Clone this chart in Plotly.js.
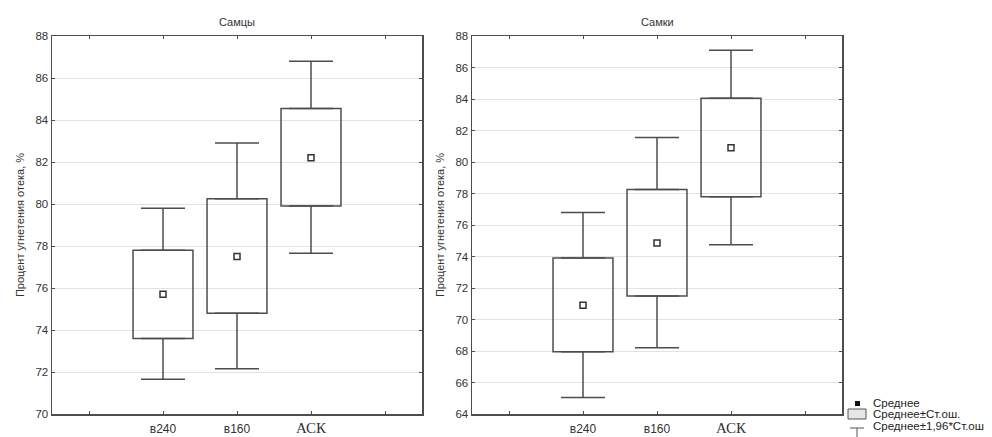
<!DOCTYPE html>
<html>
<head>
<meta charset="utf-8">
<script src="https://cdn.plot.ly/plotly-3.0.1.min.js"></script>
<style>html,body{margin:0;padding:0;background:#fff;}#chart{width:992px;height:437px;}</style>
</head>
<body>
<div id="chart"></div>
<script>
// Categories (positions 0 and 4 are empty slots on the axis)
const categories = ['в240', 'в160', 'АСК'];
const tickLabels = ['', 'в240', 'в160', '<span style="font-family:\'Liberation Serif\',serif;font-size:15px">АСК</span>', ''];

// Самцы (males)
const maleMean  = [75.7, 77.5, 82.2];
const maleSeLo  = [73.6, 74.8, 79.9];   // Среднее - Ст.ош.
const maleSeHi  = [77.8, 80.25, 84.55]; // Среднее + Ст.ош.
const maleCiLo  = [71.65, 72.15, 77.65];// Среднее - 1.96*Ст.ош.
const maleCiHi  = [79.8, 82.9, 86.8];   // Среднее + 1.96*Ст.ош.

// Самки (females)
const femMean = [70.9, 74.85, 80.9];
const femSeLo = [67.95, 71.5, 77.8];
const femSeHi = [73.9, 78.25, 84.05];
const femCiLo = [65.05, 68.2, 74.75];
const femCiHi = [76.8, 81.55, 87.1];

const xs = categories.map((c, i) => i + 1);
const lineCol = '#4d4d4d';

function boxTraces(m, lo, hi, ciLo, ciHi, xa, ya) {
  const zeros = xs.map(() => 0);
  return [
    { // upper whisker (from box top to upper limit)
      type: 'scatter', mode: 'markers', x: xs, y: hi, xaxis: xa, yaxis: ya,
      marker: {size: 0.1, opacity: 0},
      error_y: {type: 'data', symmetric: false, array: hi.map((v, i) => ciHi[i] - v), arrayminus: zeros,
                width: 22, thickness: 1.5, color: lineCol},
      showlegend: false, hoverinfo: 'skip'
    },
    { // lower whisker
      type: 'scatter', mode: 'markers', x: xs, y: lo, xaxis: xa, yaxis: ya,
      marker: {size: 0.1, opacity: 0},
      error_y: {type: 'data', symmetric: false, array: zeros, arrayminus: lo.map((v, i) => v - ciLo[i]),
                width: 22, thickness: 1.5, color: lineCol},
      showlegend: false, hoverinfo: 'skip'
    },
    { // box: mean ± SE
      type: 'bar', x: xs, base: lo, y: hi.map((v, i) => v - lo[i]), xaxis: xa, yaxis: ya,
      width: 0.81, marker: {color: 'rgba(255,255,255,0)', line: {color: lineCol, width: 1.5}},
      showlegend: false, hoverinfo: 'skip'
    },
    { // mean marker
      type: 'scatter', mode: 'markers', x: xs, y: m, xaxis: xa, yaxis: ya,
      marker: {symbol: 'square-open', size: 6, color: '#333', line: {width: 1.5, color: '#333'}},
      showlegend: false, hoverinfo: 'skip'
    }
  ];
}

const data = [
  ...boxTraces(maleMean, maleSeLo, maleSeHi, maleCiLo, maleCiHi, 'x', 'y'),
  ...boxTraces(femMean, femSeLo, femSeHi, femCiLo, femCiHi, 'x2', 'y2')
];

const W = 992, H = 437;
const px = v => v / W, py = v => 1 - v / H;

const fontBase = {family: 'Liberation Sans, Arial, sans-serif', size: 11, color: '#333'};
const legFont = {family: 'Liberation Sans, Arial, sans-serif', size: 11.5, color: '#222'};

function xAxis(dom, anchor) {
  return {
    domain: dom, anchor: anchor, range: [-0.5, 4.5],
    tickvals: [0, 1, 2, 3, 4], ticktext: tickLabels,
    ticks: 'inside', ticklen: 3, tickcolor: lineCol, tickwidth: 1,
    showline: true, linecolor: lineCol, linewidth: 1.5, mirror: 'ticks',
    showgrid: false, zeroline: false, ticklabelstandoff: 3,
    tickfont: {family: 'Liberation Sans, Arial, sans-serif', size: 12, color: '#333'}
  };
}
function yAxis(dom, anchor, range) {
  return {
    domain: dom, anchor: anchor, range: range, dtick: 2, tick0: 0,
    ticks: 'inside', ticklen: 3, tickcolor: lineCol, tickwidth: 1,
    showline: true, linecolor: lineCol, linewidth: 1.5, mirror: 'ticks',
    showgrid: true, gridcolor: '#e2e2e2', gridwidth: 1, zeroline: false,
    tickfont: {...fontBase, size: 11.5},
    title: {text: 'Процент угнетения отека, %', font: fontBase, standoff: 8}
  };
}

const yDom = [py(414), py(36)];
const ann = (text, x, y, xanchor, font) => ({text, xref: 'paper', yref: 'paper', x: px(x), y: py(y),
  xanchor, yanchor: 'middle', showarrow: false, font});

const layout = {
  width: W, height: H,
  margin: {l: 0, r: 0, t: 0, b: 0},
  paper_bgcolor: '#fff', plot_bgcolor: '#fff',
  font: fontBase, showlegend: false, barmode: 'overlay',
  xaxis: xAxis([px(52), px(422)], 'y'),
  yaxis: yAxis(yDom, 'x', [70, 88]),
  xaxis2: xAxis([px(472), px(842)], 'y2'),
  yaxis2: yAxis(yDom, 'x2', [64, 88]),
  annotations: [
    ann('Самцы', 237, 22, 'center', fontBase),
    ann('Самки', 657, 22, 'center', fontBase),
    ann('Среднее', 871, 403, 'left', legFont),
    ann('Среднее±Ст.ош.', 871, 414, 'left', legFont),
    ann('Среднее±1,96*Ст.ош', 871, 426, 'left', legFont)
  ],
  shapes: [
    {type: 'rect', xref: 'paper', yref: 'paper', x0: px(855), x1: px(860), y0: py(406), y1: py(401), fillcolor: '#111', line: {width: 0}},
    {type: 'rect', xref: 'paper', yref: 'paper', x0: px(848), x1: px(866), y0: py(419), y1: py(409), fillcolor: '#e6e6e6', line: {color: '#555', width: 1}},
    {type: 'line', xref: 'paper', yref: 'paper', x0: px(850), x1: px(864), y0: py(428), y1: py(428), line: {color: '#555', width: 1}},
    {type: 'line', xref: 'paper', yref: 'paper', x0: px(857), x1: px(857), y0: py(428), y1: py(437), line: {color: '#555', width: 1}}
  ]
};

Plotly.newPlot('chart', data, layout, {displayModeBar: false, staticPlot: true});
</script>
</body>
</html>
